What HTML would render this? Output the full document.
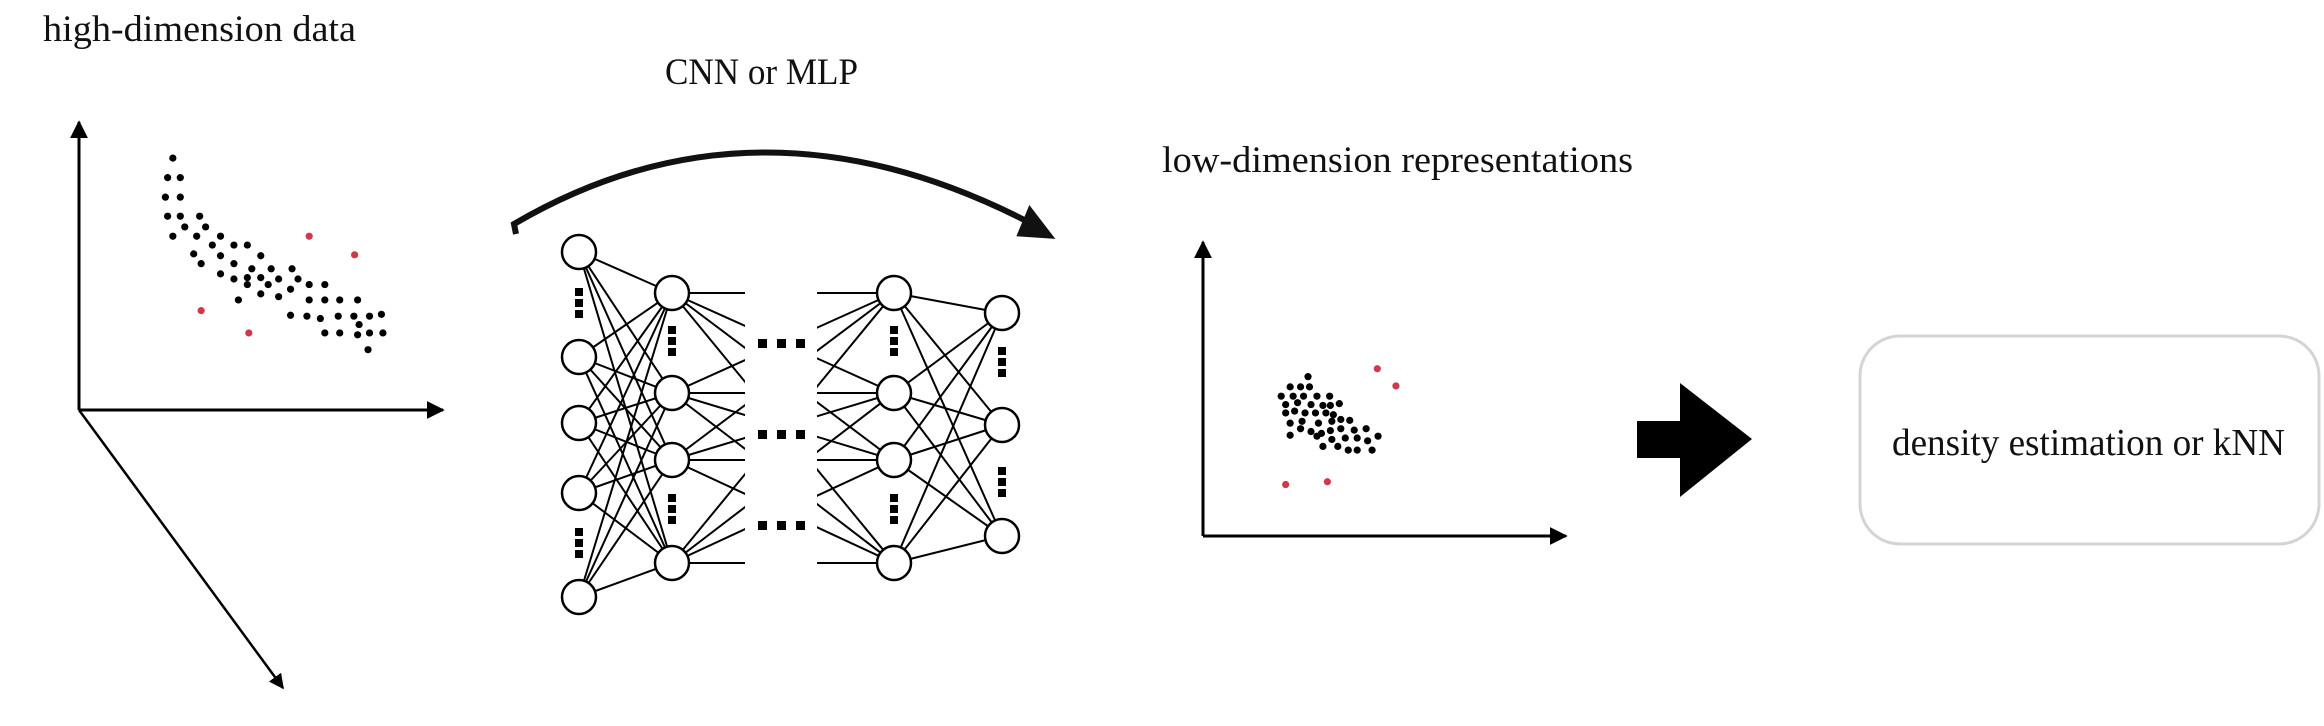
<!DOCTYPE html>
<html><head><meta charset="utf-8"><style>
html,body{margin:0;padding:0;background:#fff;}
svg{display:block;}
text{font-family:"Liberation Serif",serif;fill:#111;}
</style></head><body>
<svg id="s" width="2324" height="726" viewBox="0 0 2324 726" xmlns="http://www.w3.org/2000/svg">
<defs>
<marker id="ah" viewBox="0 0 10 10" refX="9" refY="5" markerWidth="6" markerHeight="6" orient="auto"><path d="M0,0 L10,5 L0,10 z" fill="#000"/></marker>
<clipPath id="cl"><rect x="0" y="0" width="745" height="726"/><rect x="817" y="0" width="600" height="726"/></clipPath>
</defs>
<text x="43" y="41" font-size="37" textLength="313" lengthAdjust="spacingAndGlyphs">high-dimension data</text>
<text x="665" y="84" font-size="37" textLength="193" lengthAdjust="spacingAndGlyphs">CNN or MLP</text>
<text x="1162" y="172" font-size="37" textLength="471" lengthAdjust="spacingAndGlyphs">low-dimension representations</text>
<g stroke="#000" stroke-width="3" fill="none">
<line x1="79" y1="410" x2="79" y2="122" marker-end="url(#ah)"/>
<line x1="79" y1="410" x2="443" y2="410" marker-end="url(#ah)"/>
<line x1="79" y1="410" x2="283" y2="688" stroke-width="2.5" marker-end="url(#ah)"/>
</g>
<g stroke="#000" stroke-width="3" fill="none">
<line x1="1203" y1="536" x2="1203" y2="242" marker-end="url(#ah)"/>
<line x1="1203" y1="536" x2="1566" y2="536" marker-end="url(#ah)"/>
</g>
<g id="hd"></g><g id="ld"></g><g id="nn"></g>
<path d="M516,234 L514,224 Q760,80 1036,226" stroke="#111" stroke-width="6" fill="none"/>
<polygon points="1030,210 1050,236 1020,234" fill="#111" stroke="#111" stroke-width="5"/>
<polygon points="1637,421 1680,421 1680,383 1752,439 1680,497 1680,458 1637,458" fill="#000"/>
<rect x="1860" y="336" width="459" height="208" rx="40" fill="#fff" stroke="#d4d4d4" stroke-width="3"/>
<text x="1892" y="455" font-size="38" textLength="393" lengthAdjust="spacingAndGlyphs">density estimation or kNN</text>
</svg>
<script>
const hdX=[232,225,242,222,242,225,242,268,248,276,232,264,296,285,314,332,260,296,350,270,314,338,364,392,296,332,350,374,400,314,332,360,415,436,350,374,390,415,436,456,480,320,390,412,430,454,475,496,512,482,436,456,480,496,514,494];
const hdY=[340,382,382,424,424,465,465,465,488,488,508,508,508,527,527,527,546,550,550,567,567,578,578,578,589,597,597,600,600,600,612,612,612,612,632,638,622,645,645,645,645,645,678,680,685,680,680,680,676,698,716,716,720,716,716,752];
const hdRedX=[415,476,270,334];
const hdRedY=[508,548,668,716];
const ldX=[196,172,186,198,160,176,190,208,225,166,182,200,216,226,238,166,178,192,206,220,230,172,188,210,228,240,252,186,200,214,226,240,258,274,172,208,228,246,262,290,216,236,250,262,276,282];
const ldY=[810,832,832,832,852,852,852,852,852,870,866,870,872,872,868,888,884,888,888,888,892,910,906,910,906,902,904,922,928,932,926,922,925,922,936,938,945,942,942,938,960,960,968,968,948,968];
const ldRedX=[289,314,166,222];
const ldRedY=[793,830,1042,1036];
const NS='http://www.w3.org/2000/svg';
function hx(v){return v*0.745;} function hy(v){return v*0.465;}
function lx(v){return 1162+v*0.745;} function ly(v){return v*0.465;}
function dot(g,x,y,c,n){const e=document.createElementNS(NS,'circle');e.setAttribute('cx',x);e.setAttribute('cy',y);e.setAttribute('r',3.6);e.setAttribute('fill',c);


g.appendChild(e);}
const hd=document.getElementById('hd'),ld=document.getElementById('ld'),nn=document.getElementById('nn');
hdX.forEach((v,i)=>dot(hd,hx(v),hy(hdY[i]),'#000','high-dim-point'));
hdRedX.forEach((v,i)=>dot(hd,hx(v),hy(hdRedY[i]),'#d0384c','high-dim-outlier'));
ldX.forEach((v,i)=>dot(ld,lx(v),ly(ldY[i]),'#000','low-dim-point'));
ldRedX.forEach((v,i)=>dot(ld,lx(v),ly(ldRedY[i]),'#d0384c','low-dim-outlier'));
const layers=[{x:579,y:[252,357,423,493,597]},{x:672,y:[293,393,460,563]},{x:894,y:[293,393,460,563]},{x:1002,y:[313,425,536]}];
function mk(t,a,p){const e=document.createElementNS(NS,t);for(const k in a)e.setAttribute(k,a[k]);(p||nn).appendChild(e);return e;}
const lg=mk('g',{stroke:'#000','stroke-width':2});
for(let l=0;l<3;l++){const A=layers[l],B=layers[l+1];const g=l==1?mk('g',{'clip-path':'url(#cl)'},lg):lg;
A.y.forEach(a=>B.y.forEach(b=>{const e=mk('line',{x1:A.x,y1:a,x2:B.x,y2:b},g);

}));}
layers.forEach(L=>L.y.forEach(y=>{const c=mk('circle',{cx:L.x,cy:y,r:17,fill:'#fff',stroke:'#000','stroke-width':2.5});

}));
function vd(x,y0){for(let k=0;k<3;k++){const r=mk('rect',{x:x-4,y:y0+k*11,width:8,height:8,fill:'#000'});

}}
vd(579,288);vd(579,528);vd(672,326);vd(672,494);vd(894,326);vd(894,494);vd(1002,347);vd(1002,467);
[343,434,525].forEach(y=>{for(let k=0;k<3;k++){const r=mk('rect',{x:758+k*19,y:y-4,width:9,height:9,fill:'#000'});

}});
</script>
</body></html>
